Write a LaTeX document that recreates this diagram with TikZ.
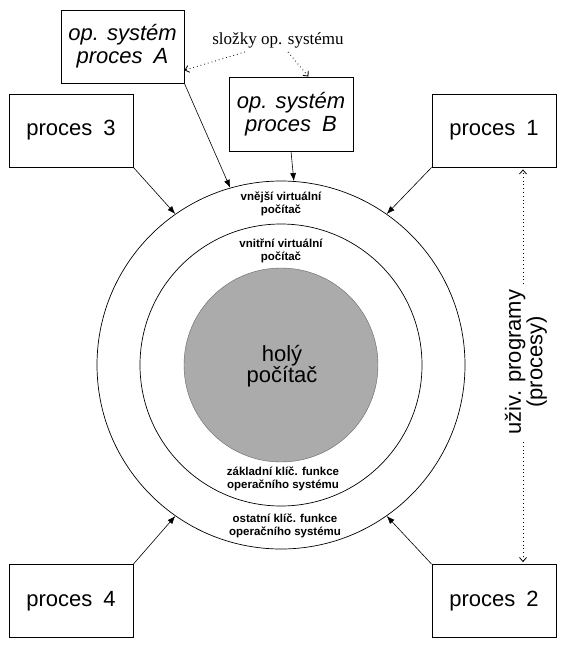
\documentclass[tikz,border=0pt]{standalone}
\usepackage{fontspec}
\setmainfont{Liberation Sans}
\newfontfamily\timesfont{Liberation Serif}
\usetikzlibrary{arrows.meta}
\begin{document}
\begin{tikzpicture}[x=1pt,y=-1pt,
  box/.style={draw, line width=0.8pt, minimum width=124pt, minimum height=73pt, inner sep=0pt, align=center, font=\fontsize{22}{23}\selectfont},
  ring/.style={draw, circle, line width=0.7pt, inner sep=0pt},
  lbl/.style={align=center, font=\bfseries\fontsize{11.5}{13}\selectfont, inner sep=0pt},
  arr/.style={line width=0.6pt, -{Latex[length=8pt,width=6pt]}},
  dotarr/.style={line width=0.8pt, dash pattern=on 0.8pt off 3pt, -{Straight Barb[length=4pt,width=7pt]}},
]
\useasboundingbox (0,0) rectangle (565,645);
\fill[white] (0,0) rectangle (565,645);

% rings
\node[ring, minimum size=368pt] (outer) at (281,365) {};
\node[ring, minimum size=282pt] (middle) at (281,365) {};
\node[circle, inner sep=0pt, minimum size=194pt, fill=black!33, draw=black!60, line width=0.4pt] (inner) at (281,365) {};

% boxes
\node[box, minimum width=123pt] (A) at (122.5,46.5) {\itshape op. systém\\\itshape proces\hspace{0.5em}A};
\node[box, minimum height=74pt] (B) at (291,114) {\itshape op. systém\\\itshape proces\hspace{0.5em}B};
\node[box] (P3) at (71,130.5) {proces\hspace{0.5em}3};
\node[box] (P1) at (494,130.5) {proces\hspace{0.5em}1};
\node[box] (P4) at (71,601) {proces\hspace{0.5em}4};
\node[box] (P2) at (494,601) {proces\hspace{0.5em}2};

% labels
\node[inner sep=0pt, font=\timesfont\fontsize{17}{17}\selectfont] (S) at (278,40) {složky op. systému};
\node[align=center, inner sep=0pt, font=\fontsize{22}{21}\selectfont] (H) at (282,366) {holý\\počítač};
\node[lbl] (L1) at (281,204) {vnější virtuální\\počítač};
\node[lbl] (L2) at (281,251) {vnitřní virtuální\\počítač};
\node[lbl] (L3) at (283,479) {základní klíč. funkce\\operačního systému};
\node[lbl] (L4) at (285,526) {ostatní klíč. funkce\\operačního systému};
\node[rotate=90, align=center, inner sep=0pt, font=\fontsize{22}{18}\selectfont] (U) at (526,362) {uživ. programy\\(procesy)};

% solid arrows
\draw[arr] (A.south east) -- (outer.106);
\draw[arr] (B.south) -- (outer.86.9);
\draw[arr] (P3.south east) -- (outer.125);
\draw[arr] (P1.south west) -- (outer.55);
\draw[arr] (P4.north east) -- (outer.235);
\draw[arr] (P2.north west) -- (outer.305);

% dotted arrows
\coordinate (sa) at (245,52);
\coordinate (sb) at (288,52);
\draw[dotarr] (sa) -- (A.-21);
\draw[dotarr] (sb) -- (B.65);
\coordinate (vt) at (523,284);
\coordinate (vb) at (523,442);
\draw[dotarr] (vt) -- ([yshift=-2pt]vt |- P1.south);
\draw[dotarr] (vb) -- ([yshift=2pt]vb |- P2.north);
\end{tikzpicture}
\end{document}
